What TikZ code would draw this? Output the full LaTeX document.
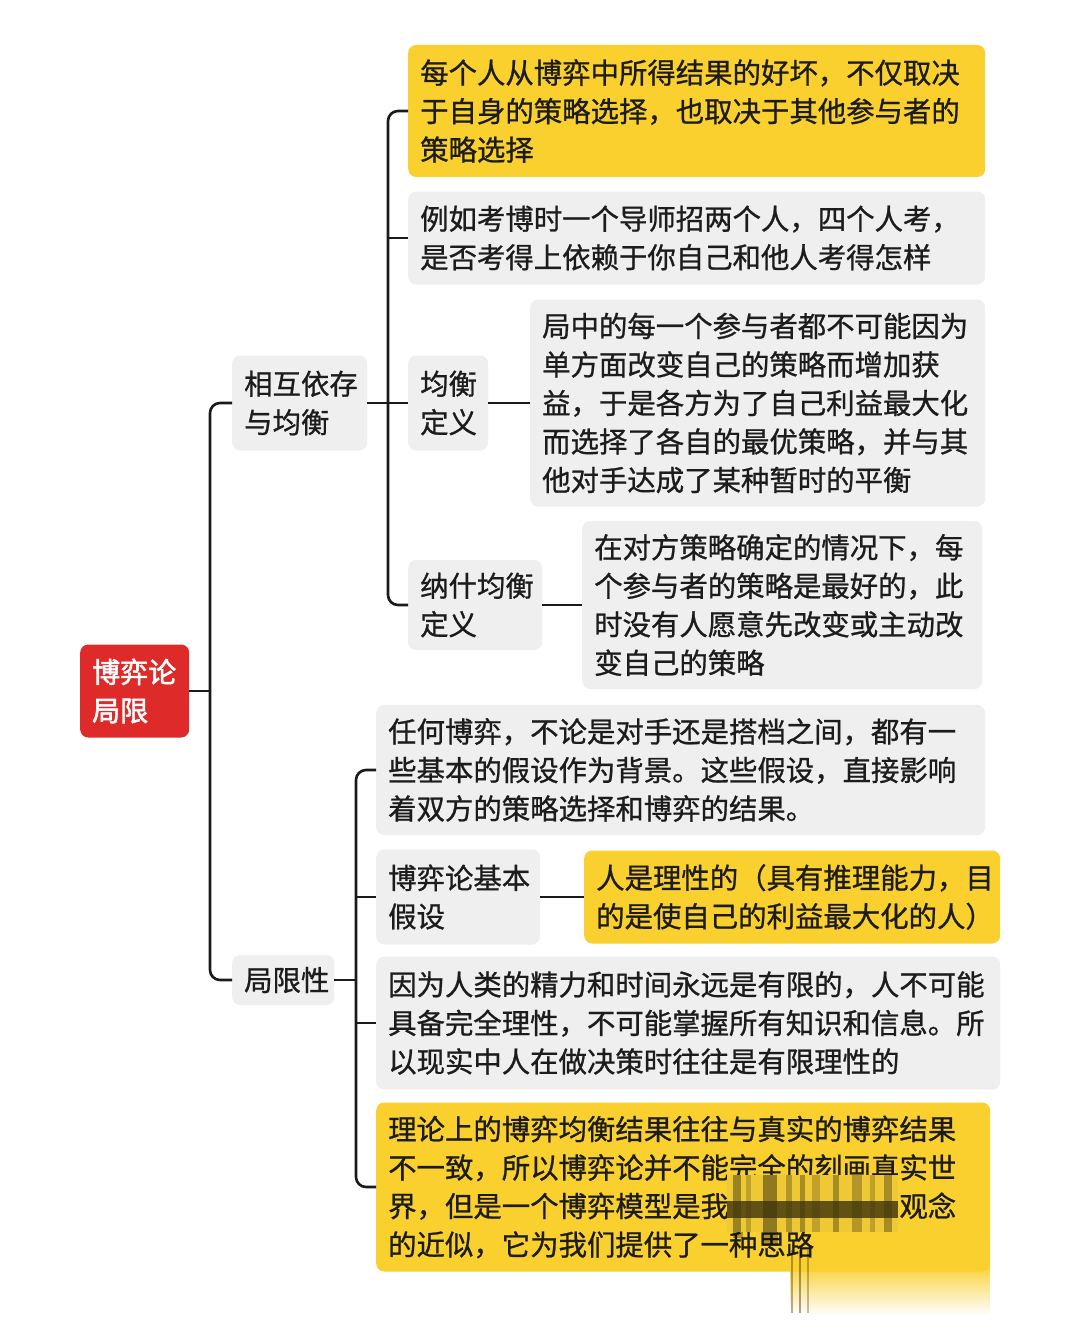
\documentclass[tikz,border=0pt]{standalone}
\usepackage{fontspec}
\newfontfamily\cjk[FakeBold=0.9]{Noto Sans CJK SC}
\newfontfamily\cjkb[FakeBold=2]{Noto Sans CJK SC}
\usetikzlibrary{fadings}
\definecolor{boxgrey}{HTML}{EFEFEF}
\definecolor{boxyellow}{HTML}{F9D02E}
\definecolor{rootred}{HTML}{DF2A2A}
\definecolor{txt}{HTML}{1C1C1C}
\definecolor{linec}{HTML}{1A1A1A}
\tikzset{
  box/.style={rounded corners=8pt, inner xsep=12pt, inner ysep=0pt, align=left, anchor=west,
    font=\cjk\fontsize{28.4}{38.5}\selectfont, text=txt},
  greybox/.style={box, fill=boxgrey},
  yellowbox/.style={box, fill=boxyellow},
  rootbox/.style={box, fill=rootred, text=white, font=\cjkb\fontsize{28}{38.5}\selectfont},
  conn/.style={draw=linec, line width=2.6pt, rounded corners=10pt}
}
\begin{document}
\begin{tikzpicture}[x=1pt,y=-1pt]
\useasboundingbox (0,0) rectangle (1080,1327);
\fill[white] (0,0) rectangle (1080,1327);

% root and level 1
\node[rootbox, text width=85pt, minimum height=93pt] (root) at (80,691) {博弈论\\局限};
\node[greybox, text width=111pt, minimum height=95pt] (h1) at (232,403) {相互依存\\与均衡};
\node[greybox, text width=78pt, minimum height=50pt] (h2) at (232,980) {局限性};

% group 1
\node[yellowbox, text width=553pt, minimum height=132pt] (a1) at (408,111)
  {每个人从博弈中所得结果的好坏，不仅取决\\于自身的策略选择，也取决于其他参与者的\\策略选择};
\node[greybox, text width=553pt, minimum height=93pt] (a2) at (408,238)
  {例如考博时一个导师招两个人，四个人考，\\是否考得上依赖于你自己和他人考得怎样};
\node[greybox, text width=56pt, minimum height=95pt] (a3) at (408,403) {均衡\\定义};
\node[greybox, text width=431pt, minimum height=207pt] (a3c) at (530,403)
  {局中的每一个参与者都不可能因为\\单方面改变自己的策略而增加获\\益，于是各方为了自己利益最大化\\而选择了各自的最优策略，并与其\\他对手达成了某种暂时的平衡};
\node[greybox, text width=110pt, minimum height=90pt] (a4) at (408,605) {纳什均衡\\定义};
\node[greybox, text width=376pt, minimum height=168pt] (a4c) at (582,605)
  {在对方策略确定的情况下，每\\个参与者的策略是最好的，此\\时没有人愿意先改变或主动改\\变自己的策略};

% group 2
\node[greybox, text width=585pt, minimum height=130pt] (b1) at (376,770)
  {任何博弈，不论是对手还是搭档之间，都有一\\些基本的假设作为背景。这些假设，直接影响\\着双方的策略选择和博弈的结果。};
\node[greybox, text width=140pt, minimum height=95pt] (b2) at (376,897) {博弈论基本\\假设};
\node[yellowbox, text width=392pt, minimum height=93pt] (b2c) at (584,897)
  {人是理性的（具有推理能力，目\\的是使自己的利益最大化的人）};
\node[greybox, text width=600pt, minimum height=133pt] (b3) at (376,1023)
  {因为人类的精力和时间永远是有限的，人不可能\\具备完全理性，不可能掌握所有知识和信息。所\\以现实中人在做决策时往往是有限理性的};
\node[yellowbox, text width=590pt, minimum height=169pt] (b4) at (376,1187)
  {理论上的博弈均衡结果往往与真实的博弈结果\\不一致，所以博弈论并不能完全的刻画真实世\\界，但是一个博弈模型是我\hspace{6em}观念\\的近似，它为我们提供了一种思路};

% connectors level 1
\coordinate (j0) at (210,691);
\draw[conn] (h1.west) -| (j0) |- (h2.west);
\draw[conn] (root.east) -- (j0);

% connectors group 1
\coordinate (j1) at (388,403);
\draw[conn] (a1.west) -| (j1) |- (a4.west);
\draw[conn] (h1.east) -- (a3.west);
\draw[conn] (j1 |- a2.west) -- (a2.west);
\draw[conn] (a3.east) -- (a3c.west);
\draw[conn] (a4.east) -- (a4c.west);

% connectors group 2
\coordinate (j2) at (356,980);
\draw[conn] (b1.west) -| (j2) |- (b4.west);
\draw[conn] (h2.east) -- (j2);
\draw[conn] (j2 |- b2.west) -- (b2.west);
\draw[conn] (j2 |- b3.west) -- (b3.west);
\draw[conn] (b2.east) -- (b2c.west);

% watermark blur
\fill[boxyellow!92!gray] (727,1175) rectangle (898,1232);
\foreach \x/\w/\o in {733/8/0.35,746/5/0.2,763/14/0.4,786/6/0.25,800/5/0.3,812/8/0.2,833/6/0.3,852/10/0.25,870/5/0.2,884/8/0.3}
  \fill[black, opacity=\o] (\x,1175) rectangle ++(\w,57);
\fill[black!75!boxyellow, opacity=0.8] (727,1201) rectangle (898,1218);
\fill[black, opacity=0.3] (733,1232) rectangle (743,1238);
\fill[black, opacity=0.3] (763,1232) rectangle (778,1246);
% fading tail below the box
\fill[boxyellow, path fading=south] (790,1262) rectangle (990,1315);
\fill[white] (990,1240) rectangle (1000,1280);
\foreach \x/\o in {792/0.3,800/0.35,808/0.25}
  \draw[black, opacity=\o, line width=1.5pt] (\x,1250) -- (\x,1313);
\end{tikzpicture}
\end{document}
